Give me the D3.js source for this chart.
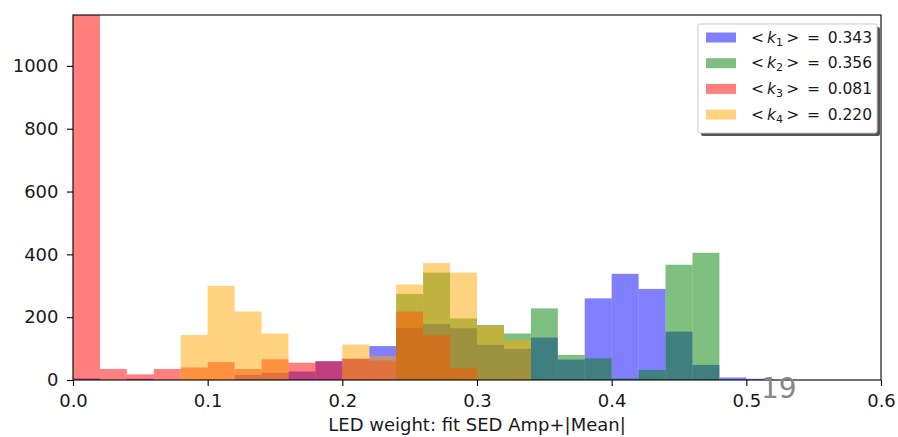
<!DOCTYPE html>
<html><head><meta charset="utf-8">
<script src="https://cdn.jsdelivr.net/npm/d3@7"></script>
<style>body{margin:0;background:#fff}svg{display:block}</style>
</head><body>
<svg id="c" width="898" height="437"></svg>
<script>
// bin edges: 0.00..0.60 step 0.02
const binStart = 0.0, binWidth = 0.02, nBins = 30;
const k1 = [5,0,4,0,0,0,16,23,27,60,67,108,166,178,165,112,99,135,65,260,338,290,154,48,8,4,0,0,0,0];
const k2 = [0,0,0,0,0,0,0,0,0,0,0,0,274,342,196,175,148,228,80,69,5,32,367,405,0,0,0,0,0,0];
const k3 = [1390,35,18,35,40,57,35,66,55,59,68,62,218,143,38,0,0,0,0,0,0,0,0,0,0,0,0,0,0,0];
const k4 = [0,0,0,0,143,300,218,148,0,0,113,77,304,372,342,172,127,0,0,0,0,0,0,0,0,0,0,0,0,0];
const seriesNames = ["1","2","3","4"];
const seriesMeans = ["0.343","0.356","0.081","0.220"];
const seriesColors = ["#0000ff","#008000","#ff0000","#ffa500"];
const xTicks = [0.0,0.1,0.2,0.3,0.4,0.5,0.6];
const yTicks = [0,200,400,600,800,1000];
const xLabel = "LED weight: fit SED Amp+|Mean|";
const pageNumber = "19";

const FONT = "DejaVu Sans";
const svg = d3.select("#c");
const m = {l:73, r:881, t:15, b:380};
const x = d3.scaleLinear().domain([0,0.6]).range([m.l,m.r]);
const y = d3.scaleLinear().domain([0,1162]).range([m.b,m.t]);

svg.append("clipPath").attr("id","clip").append("rect")
  .attr("x",m.l).attr("y",m.t).attr("width",m.r-m.l).attr("height",m.b-m.t);

const g = svg.append("g").attr("clip-path","url(#clip)");
[k1,k2,k3,k4].forEach((vals,si)=>{
  g.append("g").selectAll("rect").data(vals.map((v,i)=>({v,i})).filter(d=>d.v>0))
   .join("rect")
   .attr("x",d=>x(binStart+d.i*binWidth))
   .attr("width",d=>x(binStart+(d.i+1)*binWidth)-x(binStart+d.i*binWidth))
   .attr("y",d=>y(d.v))
   .attr("height",d=>y(0)-y(d.v))
   .attr("fill",seriesColors[si]).attr("fill-opacity",0.5);
});

// axes
const xa = svg.append("g").attr("transform",`translate(0,${m.b})`)
  .call(d3.axisBottom(x).tickValues(xTicks).tickFormat(d3.format(".1f")).tickSize(6).tickPadding(8));
const ya = svg.append("g").attr("transform",`translate(${m.l},0)`)
  .call(d3.axisLeft(y).tickValues(yTicks).tickFormat(d3.format("d")).tickSize(6).tickPadding(8.5));
[xa,ya].forEach(a=>{
  a.attr("font-family",FONT).attr("font-size",18);
  a.select(".domain").remove();
  a.selectAll("text").attr("fill","#1a1a1a");
  a.selectAll("line").attr("stroke","#000").attr("stroke-width",1.1);
});
svg.append("rect").attr("x",m.l).attr("y",m.t).attr("width",m.r-m.l).attr("height",m.b-m.t)
  .attr("fill","none").attr("stroke","#000").attr("stroke-width",1.1);

svg.append("text").attr("x",(m.l+m.r)/2).attr("y",431).attr("text-anchor","middle")
  .attr("font-family",FONT).attr("font-size",18).attr("fill","#1a1a1a").text(xLabel);

// legend
const lg = svg.append("g").attr("font-family",FONT);
const lx=698, ly=24, lw=179, lh=109;
lg.append("rect").attr("x",lx+3).attr("y",ly+3).attr("width",lw).attr("height",lh).attr("rx",2).attr("fill","#555");
lg.append("rect").attr("x",lx).attr("y",ly).attr("width",lw).attr("height",lh).attr("rx",2)
  .attr("fill","#fff").attr("stroke","#ccc");
seriesNames.forEach((s,i)=>{
  const yy = ly+13+i*25.7;
  lg.append("rect").attr("x",706).attr("y",yy-4.5).attr("width",30).attr("height",10)
    .attr("fill",seriesColors[i]).attr("fill-opacity",0.5);
  const t = lg.append("text").attr("x",751).attr("y",yy+5.5).attr("font-size",15.5).attr("fill","#1a1a1a");
  t.append("tspan").text("<\u2009");
  t.append("tspan").attr("font-style","italic").text("k");
  t.append("tspan").attr("font-size",11).attr("dy",3).text(s);
  t.append("tspan").attr("dy",-3).text("\u2009>\u2002=\u20020."+seriesMeans[i].slice(2));
});

svg.append("text").attr("x",761).attr("y",398).attr("font-size",28).attr("fill","#888")
  .attr("font-family",FONT).text(pageNumber);
</script>
</body></html>
